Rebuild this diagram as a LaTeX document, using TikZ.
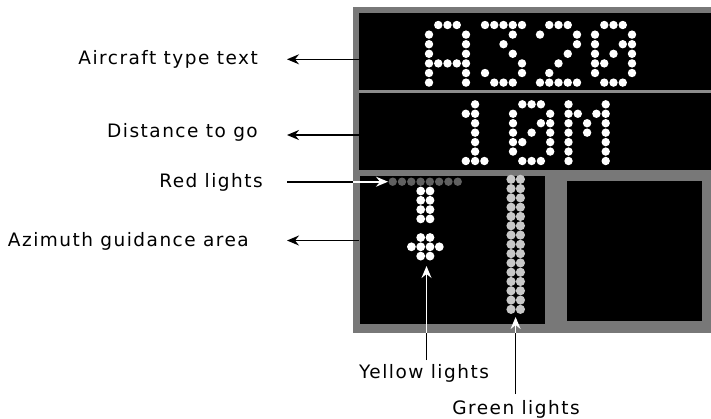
\documentclass[tikz,border=0pt]{standalone}
\usepackage{fontspec}
\usetikzlibrary{arrows.meta}
\newfontfamily\labfont{DejaVu Sans}[LetterSpace=8]
\definecolor{panelgray}{RGB}{120,120,120}
\definecolor{sepgray}{RGB}{140,140,140}
\definecolor{redlight}{RGB}{96,96,96}
\definecolor{greenlight}{RGB}{200,200,200}
\tikzset{
  lab/.style={inner sep=0pt, font=\labfont\fontsize{18.5pt}{22pt}\selectfont},
  arr/.style={line width=1.6pt, -{Stealth[length=12pt,width=10pt,inset=4pt]}},
  plain/.style={line width=1.6pt},
  panel/.style={fill=black},
  ledw/.style={fill=white},
}
\begin{document}
\begin{tikzpicture}[x=1pt,y=-1pt]
\useasboundingbox (0,0) rectangle (711,418);
% housing
\fill[panelgray] (353,7) rectangle (711,333);
\fill[panel] (359,13) rectangle (711,90);
\fill[sepgray] (359,90) rectangle (711,93);
\fill[panel] (359,93) rectangle (711,170);
\fill[panel] (360,176) rectangle (545,324);
\fill[panel] (567,181) rectangle (702,321);
% top line A320
\foreach \ox/\pts in {
 429/{1/0,2/0,3/0,0/1,4/1,0/2,4/2,0/3,4/3,0/4,1/4,2/4,3/4,4/4,0/5,4/5,0/6,4/6},
 485/{0/0,1/0,2/0,3/0,4/0,3/1,2/2,3/3,4/4,0/5,4/5,1/6,2/6,3/6},
 540/{1/0,2/0,3/0,0/1,4/1,4/2,3/3,2/4,1/5,0/6,1/6,2/6,3/6,4/6},
 595/{1/0,2/0,3/0,0/1,4/1,0/2,3/2,4/2,0/3,2/3,4/3,0/4,1/4,4/4,0/5,4/5,1/6,2/6,3/6}}
 {\foreach \c/\r in \pts {\fill[ledw] ({\ox+9.25*\c},{25+9.6*\r}) circle (4.2);}}
% second line 10M
\foreach \ox/\pts in {
 456.5/{2/0,1/1,2/1,2/2,2/3,2/4,2/5,1/6,2/6,3/6},
 513/{1/0,2/0,3/0,0/1,4/1,0/2,3/2,4/2,0/3,2/3,4/3,0/4,1/4,4/4,0/5,4/5,1/6,2/6,3/6},
 568.5/{0/0,4/0,0/1,1/1,3/1,4/1,0/2,2/2,4/2,0/3,2/3,4/3,0/4,4/4,0/5,4/5,0/6,4/6}}
 {\foreach \c/\r in \pts {\fill[ledw] ({\ox+9.3*\c},{104.3+9.45*\r}) circle (4.2);}}
% red lights
\foreach \k in {0,...,7} {\fill[redlight] ({392.7+9.29*\k},181.7) circle (4.2);}
% yellow lights
\foreach \r in {0,...,3} {\fill[ledw] (420.7,{191+9.3*\r}) circle (4.4); \fill[ledw] (430,{191+9.3*\r}) circle (4.4);}
\foreach \x/\y in {420.7/237.5,430/237.5,411.4/246.8,420.7/246.8,430/246.8,439.3/246.8,420.7/256.1,430/256.1}
 {\fill[ledw] (\x,\y) circle (4.4);}
% green lights
\foreach \r in {0,...,14} {\fill[greenlight] (511,{179.3+9.29*\r}) circle (4.6); \fill[greenlight] (520.4,{179.3+9.29*\r}) circle (4.6);}
% labels
\node[lab, anchor=base east] (l1) at (258,64) {Aircraft type text};
\node[lab, anchor=base east] (l2) at (258,137) {Distance to go};
\node[lab, anchor=base east] (l3) at (263,187) {Red lights};
\node[lab, anchor=base east] (l4) at (249,246) {Azimuth guidance area};
\node[lab, anchor=base] (l5) at (424,378) {Yellow lights};
\node[lab, anchor=base] (l6) at (516,414) {Green lights};
% connector end points
\coordinate (p1) at (359,59.3);  \coordinate (t1) at (287,59.3);
\coordinate (p2) at (359,135);   \coordinate (t2) at (287,135);
\coordinate (p4) at (359,240.5); \coordinate (t4) at (287,240.5);
\coordinate (s3) at (287,181.7); \coordinate (m3) at (353,181.7); \coordinate (t3) at (388,181.7);
\coordinate (s5) at (426.5,360); \coordinate (m5) at (426.5,333); \coordinate (t5) at (426.5,266);
\coordinate (s6) at (515.6,394); \coordinate (m6) at (515.6,333); \coordinate (t6) at (515.6,317);
% connectors
\draw[arr] (p1) -- (t1);
\draw[arr] (p2) -- (t2);
\draw[arr] (p4) -- (t4);
\draw[plain] (s3) -- (m3);
\draw[arr, white] (m3) -- (t3);
\draw[plain] (s5) -- (m5);
\draw[arr, white] (m5) -- (t5);
\draw[plain] (s6) -- (m6);
\draw[arr, white] (m6) -- (t6);
\end{tikzpicture}
\end{document}
